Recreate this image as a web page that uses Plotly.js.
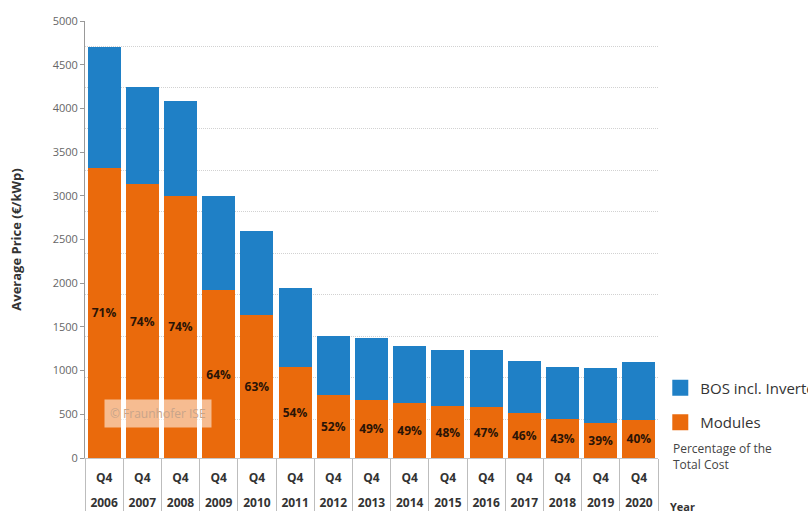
<!DOCTYPE html>
<html>
<head>
<meta charset="utf-8">
<script src="https://cdn.plot.ly/plotly-3.0.1.min.js"></script>
<style>
  html, body { margin: 0; padding: 0; background: #fff; }
  #chart { width: 808px; height: 511px; }
</style>
</head>
<body>
<div id="chart"></div>
<script>
// Average price of rooftop PV systems (10-100 kWp), split into modules and BOS
const years = ['2006', '2007', '2008', '2009', '2010', '2011', '2012', '2013',
               '2014', '2015', '2016', '2017', '2018', '2019', '2020'];
const quarters = ['Q4', 'Q4', 'Q4', 'Q4', 'Q4', 'Q4', 'Q4', 'Q4',
                  'Q4', 'Q4', 'Q4', 'Q4', 'Q4', 'Q4', 'Q4'];
// €/kWp
const modules = [3320, 3130, 3000, 1920, 1640, 1045, 725, 668, 625, 595, 580, 510, 445, 398, 440];
const bos     = [1380, 1120, 1080, 1080, 960, 895, 675, 702, 655, 645, 660, 600, 595, 627, 660];
const yTicks  = [0, 500, 1000, 1500, 2000, 2500, 3000, 3500, 4000, 4500, 5000];

const BLUE = '#1f80c6';
const ORANGE = '#ea6a0c';
const FONT = 'Open Sans, Noto Sans, sans-serif';

// share of the module cost in the total system price
const shareLabels = modules.map((m, i) => Math.round(100 * m / (m + bos[i])) + '%');
const idx = years.map((_, i) => i);

const traces = [
  {
    type: 'bar', x: years, y: modules, name: 'Modules',
    marker: { color: ORANGE, line: { width: 0 } },
    text: shareLabels, textposition: 'inside', insidetextanchor: 'middle',
    textangle: 0, constraintext: 'none',
    textfont: { family: FONT, size: 12, color: '#2a1406', weight: 'bold' },
    showlegend: false, hoverinfo: 'skip'
  },
  {
    type: 'bar', x: years, y: bos, name: 'BOS incl. Inverter',
    marker: { color: BLUE, line: { width: 0 } },
    showlegend: false, hoverinfo: 'skip'
  },
  // legend swatches
  {
    type: 'scatter', mode: 'markers', x: [null], y: [null],
    name: 'BOS incl. Inverter', legendgroup: 'bos',
    marker: { symbol: 'square', size: 18, color: BLUE }
  },
  {
    type: 'scatter', mode: 'markers', x: [null], y: [null],
    name: 'Modules', legendgroup: 'mod',
    marker: { symbol: 'square', size: 18, color: ORANGE }
  },
  // empty trace that binds the year-label axis and the grid axis
  {
    type: 'scatter', x: [null], y: [null], xaxis: 'x2', yaxis: 'y2',
    showlegend: false, hoverinfo: 'skip'
  }
];

const layout = {
  width: 808, height: 511,
  margin: { l: 85, r: 150, t: 21, b: 53, autoexpand: false },
  paper_bgcolor: '#ffffff', plot_bgcolor: '#ffffff',
  font: { family: FONT, color: '#444' },
  barmode: 'stack', bargap: 0.136,
  showlegend: true,
  legend: {
    x: 1.004, y: 0.198, xanchor: 'left', yanchor: 'top',
    traceorder: 'grouped', tracegroupgap: 12,
    font: { family: FONT, size: 15, color: '#333' },
    bgcolor: 'rgba(0,0,0,0)'
  },
  xaxis: {
    type: 'category', range: [-0.5, 14.5], fixedrange: true,
    tickmode: 'array', tickvals: years, ticktext: quarters,
    tickson: 'boundaries', ticks: 'outside', ticklen: 53, tickwidth: 1, tickcolor: '#bdbdbd',
    ticklabelstandoff: 9,
    tickfont: { family: FONT, size: 12, color: '#333', weight: 'bold' },
    showline: true, linecolor: '#c4c4c4', linewidth: 1,
    showgrid: false, zeroline: false
  },
  xaxis2: {
    overlaying: 'x', anchor: 'y', side: 'bottom',
    range: [-0.5, 14.5], fixedrange: true,
    tickmode: 'array', tickvals: idx, ticktext: years,
    ticks: '', ticklabelstandoff: 36,
    tickfont: { family: FONT, size: 12, color: '#333', weight: 'bold' },
    showline: false, showgrid: false, zeroline: false
  },
  yaxis: {
    range: [0, 5000], fixedrange: true,
    tickmode: 'array', tickvals: yTicks,
    ticks: 'outside', ticklen: 4, tickcolor: '#999',
    tickfont: { family: FONT, size: 11, color: '#666' },
    showline: true, linecolor: '#999', linewidth: 1,
    showgrid: false, zeroline: false,
    title: {
      text: 'Average Price (€/kWp)', standoff: 28,
      font: { family: FONT, size: 13, color: '#333', weight: 'bold' }
    }
  },
  // dotted background grid
  yaxis2: {
    overlaying: 'y', side: 'left', range: [0.059, 10.604], fixedrange: true,
    dtick: 1, showticklabels: false, ticks: '',
    showgrid: true, gridcolor: '#d2d2d2', gridwidth: 1, griddash: '1px,1px',
    showline: false, zeroline: false
  },
  annotations: [
    {
      text: '© Fraunhofer ISE', xref: 'paper', yref: 'y',
      x: 0.128, y: 510, xanchor: 'center', yanchor: 'middle',
      showarrow: false, bgcolor: 'rgba(255,255,255,0.55)',
      borderpad: 5,
      font: { family: FONT, size: 12, color: '#c8a48a' }
    },
    {
      text: 'Percentage of the<br>Total Cost', xref: 'paper', yref: 'paper',
      x: 1.0227, y: 0.045, xanchor: 'left', yanchor: 'top', align: 'left',
      showarrow: false,
      font: { family: FONT, size: 12, color: '#444' }
    },
    {
      text: 'Year', xref: 'paper', yref: 'paper',
      x: 1.017, y: -0.09, xanchor: 'left', yanchor: 'top',
      showarrow: false,
      font: { family: FONT, size: 11, color: '#333', weight: 'bold' }
    }
  ]
};

Plotly.newPlot('chart', traces, layout, { staticPlot: true, displayModeBar: false });
</script>
</body>
</html>
